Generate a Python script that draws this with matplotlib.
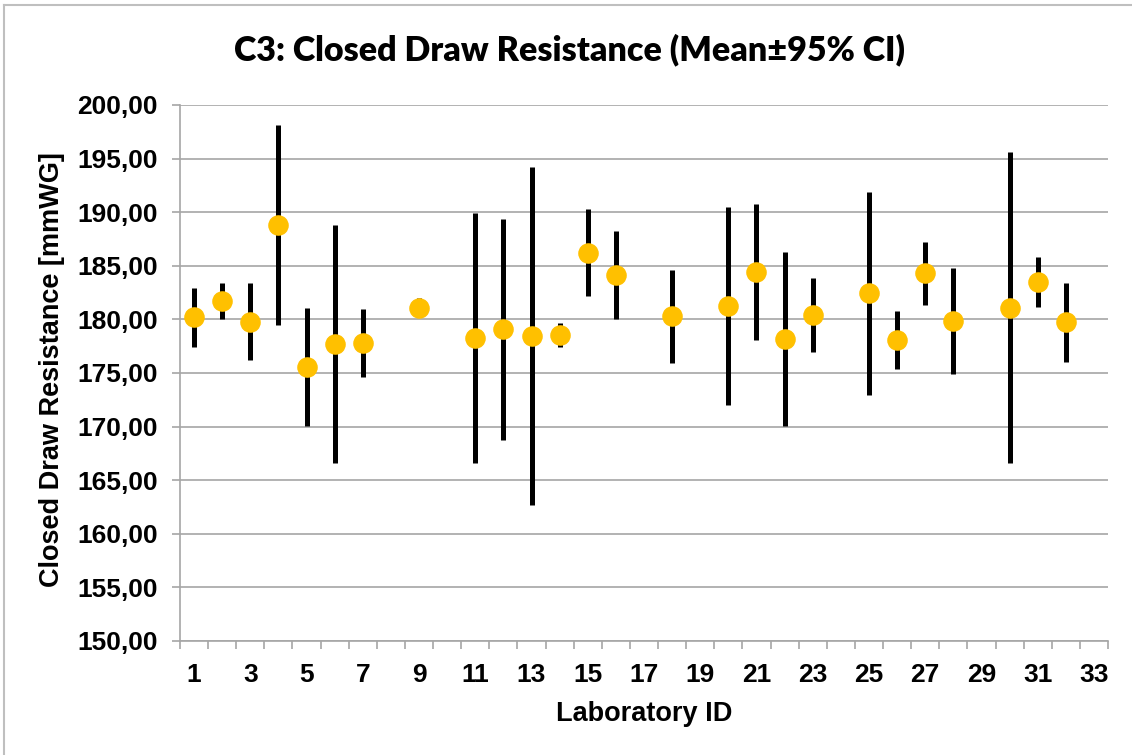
import matplotlib
matplotlib.use("Agg")
import matplotlib.pyplot as plt
from matplotlib.ticker import FixedLocator, FuncFormatter
from matplotlib.lines import Line2D

labs = [1, 2, 3, 4, 5, 6, 7, 9, 11, 12, 13, 14, 15, 16, 18, 20, 21, 22, 23, 25, 26, 27, 28, 30, 31, 32]
means = [180.19, 181.68, 179.78, 188.79, 175.56, 177.67, 177.76, 181.09, 178.29, 179.13, 178.45, 178.54, 186.24,
         184.17, 180.31, 181.21, 184.41, 178.17, 180.37, 182.45, 178.10, 184.29, 179.81, 181.09, 183.51, 179.72]
upper = [182.95, 183.40, 183.40, 198.10, 181.06, 188.76, 180.93, 181.96, 189.94, 189.41, 194.19, 179.66, 190.31,
         188.26, 184.63, 190.44, 190.72, 186.28, 183.85, 191.86, 180.78, 187.20, 184.78, 195.62, 185.78, 183.38]
lower = [177.45, 180.00, 176.18, 179.47, 170.03, 166.60, 174.60, 180.22, 166.60, 168.79, 162.66, 177.42, 182.20,
         180.00, 175.93, 172.01, 178.07, 170.03, 176.92, 172.98, 175.40, 181.34, 174.87, 166.58, 181.18, 176.02]
xtick_labels = [str(i) for i in range(1, 34, 2)]
yticks = [150, 155, 160, 165, 170, 175, 180, 185, 190, 195, 200]

title = "C3: Closed Draw Resistance (Mean\u00b195% CI)"
xlabel = "Laboratory ID"
ylabel = "Closed Draw Resistance [mmWG]"

W, H = 1132, 755
fig = plt.figure(figsize=(W / 100, H / 100), dpi=100)
ax = fig.add_axes([180 / W, 1 - 641 / H, (1108 - 180) / W, (641 - 105) / H])

grid_c = "#a6a6a6"
ax.vlines(labs, lower, upper, colors="black", linewidth=3.6, zorder=3)
ax.plot(labs, means, linestyle="none", marker="o", markersize=13.8,
        markerfacecolor="#FFC000", markeredgecolor="#FFC000", zorder=4)

ax.set_xlim(0.5, 33.5)
ax.set_ylim(150, 200)
ax.set_yticks(yticks)
ax.yaxis.set_major_formatter(FuncFormatter(lambda v, p: f"{v:.2f}".replace(".", ",")))
ax.xaxis.set_major_locator(FixedLocator(list(range(1, 34, 2))))
ax.set_xticklabels(xtick_labels)
ax.xaxis.set_minor_locator(FixedLocator([i + 0.5 for i in range(0, 34)]))

ax.grid(axis="y", color=grid_c, linewidth=1.2, zorder=0)
ax.set_axisbelow(True)
for s in ["top", "right"]:
    ax.spines[s].set_visible(False)
for s in ["left", "bottom"]:
    ax.spines[s].set_color(grid_c)
    ax.spines[s].set_linewidth(1.2)

ax.tick_params(axis="y", which="major", direction="out", length=6, width=1.2, color=grid_c, pad=10)
ax.tick_params(axis="x", which="major", length=0, pad=16)
ax.tick_params(axis="x", which="minor", direction="out", length=6, width=1.2, color=grid_c)
for lab in ax.get_xticklabels() + ax.get_yticklabels():
    lab.set_fontfamily("Liberation Sans")
    lab.set_fontweight("bold")
    lab.set_fontsize(19)

fig.text(644 / W, 1 - 714 / H, xlabel, ha="center", va="center",
         family="Liberation Sans", weight="bold", size=19.5)
fig.text(52 / W, 1 - 370 / H, ylabel, ha="center", va="center", rotation=90,
         family="Liberation Sans", weight="bold", size=19.5)

t = fig.text(569 / W, 1 - 50 / H, title, ha="center", va="center",
             family="Lato", weight="heavy", size=24)
# fit title width to reference (~672 px)
fig.canvas.draw()
bb = t.get_window_extent()
t.set_fontsize(24 * 672 / bb.width)

border_c = "#bfbfbf"
fig.add_artist(Line2D([4 / W, 4 / W], [0, 1 - 5 / H], transform=fig.transFigure, color=border_c, linewidth=1.5))
fig.add_artist(Line2D([4 / W, 1], [1 - 5 / H, 1 - 5 / H], transform=fig.transFigure, color=border_c, linewidth=1.5))

fig.savefig("out.png", dpi=100)
